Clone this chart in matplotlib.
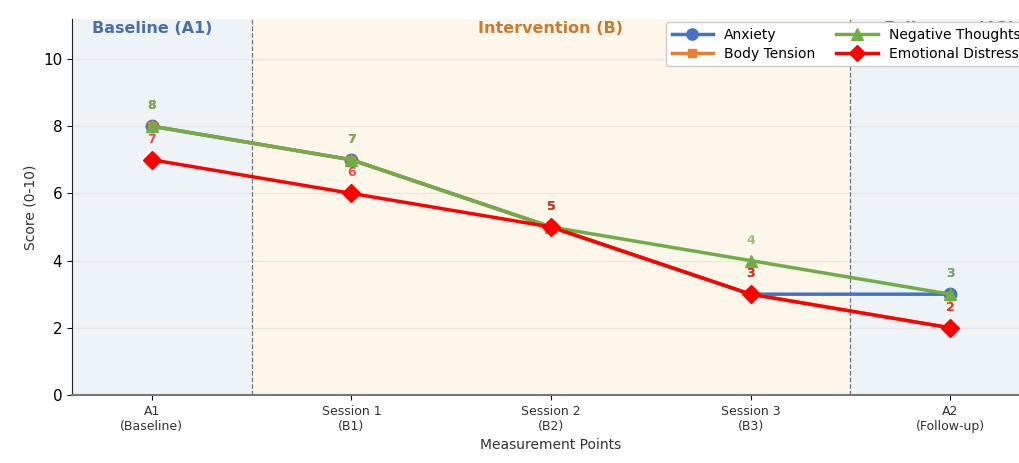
import numpy as np
import matplotlib
matplotlib.use('Agg')
import matplotlib.pyplot as plt

# Data
points = ['A1\n(Baseline)', 'Session 1\n(B1)', 'Session 2\n(B2)', 'Session 3\n(B3)', 'A2\n(Follow-up)']
anxiety = [8, 7, 5, 3, 3]
body_tension = [8, 7, 5, 3, 2]
negative_thoughts = [8, 7, 5, 4, 3]
emotional_distress = [7, 6, 5, 3, 2]

series = [
    ('Anxiety', anxiety, '#4472c4', 'o', 9),
    ('Body Tension', body_tension, '#ed7d31', 's', 6),
    ('Negative Thoughts', negative_thoughts, '#70ad47', '^', 9),
    ('Emotional Distress', emotional_distress, '#ff0000', 'D', 9),
]

fig = plt.figure(figsize=(10.19, 4.63), dpi=100)
ax = fig.add_axes([0.0707, 0.1469, 0.94, 0.8128])

x = np.arange(len(points))

# Phase shading
ax.axvspan(-0.4, 0.5, color='#eef3f8', zorder=0)
ax.axvspan(0.5, 3.5, color='#fdf6ea', zorder=0)
ax.axvspan(3.5, 4.4, color='#eef3f8', zorder=0)
ax.axvline(0.5, color='#555555', linestyle='--', linewidth=0.9, alpha=0.8, zorder=1)
ax.axvline(3.5, color='#555555', linestyle='--', linewidth=0.9, alpha=0.8, zorder=1)

ax.text(-0.3, 10.9, 'Baseline (A1)', color='#4a6fa5', fontsize=11.5,
        fontweight='bold', va='center', ha='left')
ax.text(2.0, 10.9, 'Intervention (B)', color='#cc7a30', fontsize=11.5,
        fontweight='bold', va='center', ha='center')
ax.text(4.0, 10.9, 'Follow-up (A2)', color='#4a6fa5', fontsize=11.5,
        fontweight='bold', va='center', ha='center')

for name, vals, col, mk, ms in series:
    ax.plot(x, vals, color=col, marker=mk, markersize=ms, linewidth=2.5,
            label=name, zorder=3)
    for xi, v in zip(x, vals):
        ax.annotate(str(v), (xi, v), textcoords='offset points', xytext=(0, 10),
                    ha='center', va='bottom', fontsize=9, fontweight='bold',
                    color=col, alpha=0.7, zorder=4)

ax.set_xlim(-0.4, 4.4)
ax.set_ylim(0, 11.2)
ax.set_yticks([0, 2, 4, 6, 8, 10])
ax.set_xticks(x)
ax.set_xticklabels(points, fontsize=9, color='#333333')
ax.tick_params(axis='y', labelsize=11)
ax.set_xlabel('Measurement Points', fontsize=10, color='#333333')
ax.set_ylabel('Score (0-10)', fontsize=10, color='#333333')
ax.grid(axis='y', color='#dddddd', alpha=0.6, linewidth=1)
ax.set_axisbelow(True)

for s in ['top', 'right']:
    ax.spines[s].set_visible(False)
ax.spines['left'].set_color('#222222')
ax.spines['bottom'].set_color('#777777')
ax.spines['bottom'].set_linewidth(1.5)

leg = ax.legend(loc='upper right', ncol=2, fontsize=10, framealpha=1.0,
                handlelength=3.0, columnspacing=1.5, borderaxespad=0.25,
                labelspacing=0.35, markerscale=0.9)
leg.set_zorder(5)

fig.savefig('out.png', dpi=100)
